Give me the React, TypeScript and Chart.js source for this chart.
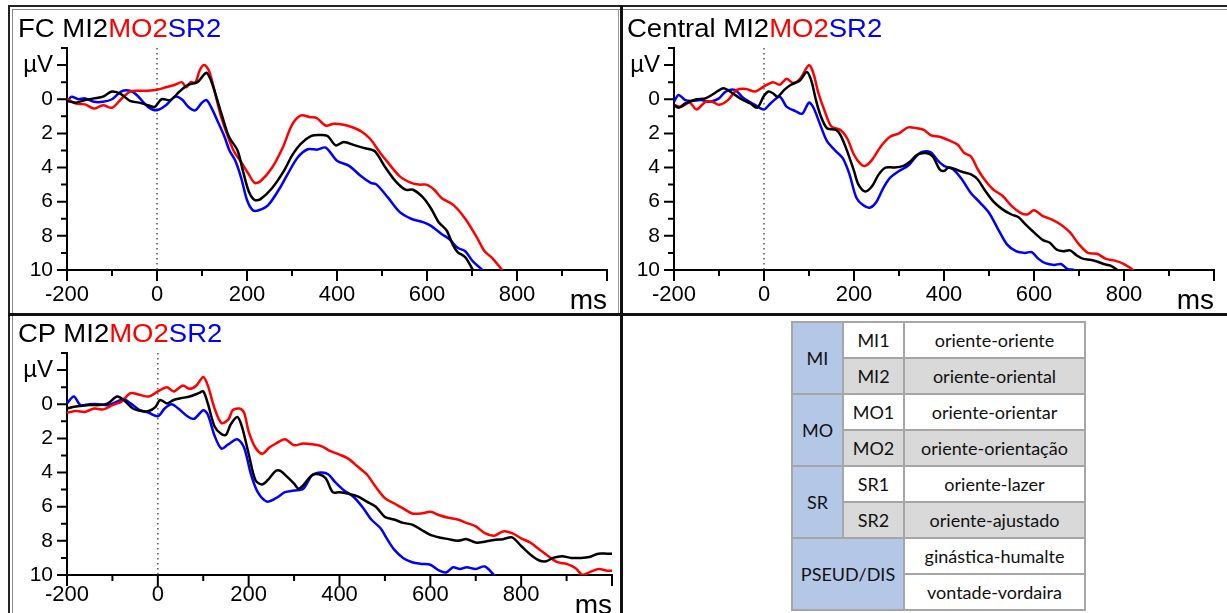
import React, { useEffect, useRef } from 'react';
import { Chart, registerables } from 'chart.js';

Chart.register(...registerables);

// ---------- data (time in ms, amplitude in µV) ----------
// FC
const fcMI2T = [-200,-180,-160,-140,-120,-100,-80,-60,-40,-20,-5,10,30,50,70,90,100,110,120,130,145,160,179,191,204,217,230,256,282,300,320,343,360,379,397,415,440,459,484,505,530,552,569,591,609,626,644,657,668,685,702,712];
const fcMI2V = [0.1,0.2,0.05,-0.05,-0.15,-0.45,-0.3,0.1,0.2,0.35,0.45,0.0,0.05,-0.45,-0.85,-1.0,-1.3,-1.55,-1.1,-0.3,1.0,2.2,3.0,4.2,5.4,5.9,5.85,5.2,4.2,3.3,2.6,2.15,2.1,2.15,2.7,2.5,2.7,2.85,3.05,3.9,4.8,5.3,5.3,5.75,6.4,7.2,7.7,8.5,8.95,9.25,10.0,10.4];
const fcMO2T = [-200,-180,-160,-140,-120,-100,-80,-60,-40,-20,0,20,40,55,65,75,85,95,105,115,125,140,155,170,190,204,217,230,256,280,300,320,340,355,375,393,415,437,455,473,495,513,539,565,582,599,616,633,659,685,711,728,745,767,777];
const fcMO2V = [0.0,0.25,0.3,0.55,0.35,0.5,0.0,-0.45,-0.5,-0.5,-0.55,-0.7,-0.85,-1.0,-0.7,-1.0,-0.95,-1.7,-2.0,-1.7,-0.8,0.8,2.0,3.0,3.8,4.4,4.9,4.8,4.0,2.8,1.5,0.95,1.05,1.1,1.55,1.43,1.5,1.67,1.9,2.3,3.1,3.7,4.5,4.9,5.0,5.0,5.3,5.8,6.2,7.0,8.1,8.9,9.3,10.0,10.4];
const fcSR2T = [-200,-190,-175,-160,-140,-120,-100,-80,-60,-45,-20,0,20,40,55,70,85,100,110,120,135,150,161,174,187,200,213,226,247,273,290,313,335,357,375,400,427,453,475,488,513,539,565,591,608,633,650,668,685,702,723,733];
const fcSR2V = [0.15,-0.15,0.0,-0.05,0.15,0.15,0.0,-0.45,-0.5,-0.25,0.45,0.65,0.35,-0.15,0.0,0.45,0.65,0.2,0.05,0.45,1.3,2.2,3.0,3.6,4.6,5.9,6.5,6.5,6.2,5.2,4.4,3.4,2.93,2.95,2.83,3.6,3.9,4.5,4.9,5.0,5.75,6.6,7.0,7.2,7.4,7.9,8.2,8.7,8.9,9.5,10.0,10.4];

// Central
const ceMI2T = [-200,-190,-175,-150,-130,-110,-90,-70,-50,-30,-15,0,10,20,30,45,60,80,95,105,115,125,140,160,170,185,200,210,225,240,255,270,290,310,325,340,360,375,390,400,410,425,440,460,475,490,510,530,550,565,580,600,620,635,650,665,680,695,710,725,740,755,770,785,795];
const ceMI2V = [0.33,0.5,0.25,0.0,-0.05,-0.35,-0.65,-0.35,0.0,0.25,0.5,-0.2,-0.45,-0.35,-0.15,-0.55,-0.85,-1.1,-1.6,-1.1,0.0,0.9,1.7,1.8,2.1,3.05,4.2,5.0,5.4,5.1,4.4,4.0,4.0,3.9,3.65,3.25,3.15,3.35,4.1,4.2,4.0,4.1,4.25,4.4,4.7,5.3,6.0,6.45,6.75,6.9,7.3,7.8,8.25,8.4,8.8,8.9,8.85,9.15,9.35,9.4,9.5,9.65,9.75,10.0,10.3];
const ceMO2T = [-200,-185,-165,-150,-130,-115,-100,-80,-60,-40,-20,0,20,35,50,65,80,100,110,120,135,150,170,185,200,215,225,240,260,280,300,320,340,355,370,390,410,430,445,460,475,490,510,530,550,570,585,600,620,640,660,680,700,720,740,760,780,800,820,830];
const ceMO2V = [0.33,0.45,0.2,0.6,0.15,0.15,0.33,0.05,-0.55,-0.6,-0.45,-0.75,-1.0,-0.85,-1.2,-0.95,-1.2,-2.0,-1.5,-0.45,0.7,1.6,1.8,2.3,3.25,3.8,3.9,3.55,2.75,2.2,2.0,1.65,1.7,1.8,2.1,2.2,2.4,2.65,3.15,3.35,4.1,4.7,5.3,5.65,6.25,6.65,6.75,6.5,6.85,7.05,7.35,7.8,8.5,9.0,9.05,9.35,9.45,9.65,10.0,10.3];
const ceSR2T = [-200,-190,-175,-160,-140,-120,-100,-85,-65,-45,-20,0,15,35,50,70,85,100,110,125,140,160,175,190,205,220,235,250,265,280,300,320,335,350,370,385,400,420,440,460,480,500,520,540,560,580,595,610,625,645,660,675,690,700];
const ceSR2V = [0.15,-0.25,0.05,0.1,0.05,0.15,-0.05,-0.45,-0.55,-0.05,0.33,0.6,0.23,-0.15,0.43,0.7,0.85,0.2,0.5,1.5,2.45,3.05,3.45,4.4,5.75,6.2,6.35,6.0,5.2,4.6,4.2,3.9,3.45,3.1,3.1,3.55,3.9,4.1,4.7,5.5,6.05,6.65,7.6,8.5,8.9,9.0,8.95,9.35,9.6,9.7,9.65,9.95,10.0,10.3];

// CP
const cpMI2T = [-200,-185,-170,-150,-130,-110,-90,-75,-55,-35,-20,-5,5,20,35,50,70,90,100,110,125,140,150,160,175,185,200,215,230,245,260,270,285,300,310,320,340,355,370,385,400,420,440,460,480,500,520,540,560,580,600,620,640,660,680,700,720,740,760,780,800,820,840,855,870,890,910,930,950,970,990,1000];
const cpMI2V = [0.25,0.15,0.1,0.05,0.05,-0.05,-0.45,-0.25,0.25,0.4,0.4,0.15,-0.25,-0.05,-0.25,-0.35,-0.45,-0.65,-0.75,-0.05,1.3,1.75,1.8,1.2,0.75,1.3,2.9,4.45,4.7,4.35,3.9,3.9,4.25,4.65,4.95,4.75,4.15,4.1,4.35,5.15,5.15,5.25,5.4,5.7,6.0,6.6,6.75,6.95,7.05,7.35,7.65,7.8,7.9,8.0,7.9,8.1,8.05,7.95,7.9,7.8,8.3,8.8,9.15,9.2,9.0,8.9,9.0,9.0,8.95,8.75,8.75,8.75];
const cpMO2T = [-200,-180,-160,-140,-120,-100,-80,-60,-40,-20,0,20,35,55,70,85,100,110,125,140,155,165,180,190,200,215,230,245,260,280,300,320,340,360,380,400,420,440,460,480,500,520,540,560,580,600,620,640,660,680,700,720,740,760,780,800,820,840,860,880,900,920,935,950,970,990,1000];
const cpMO2V = [0.5,0.4,0.45,0.25,0.3,0.05,-0.15,-0.65,-0.55,-0.45,-0.75,-1.0,-0.75,-1.1,-0.9,-1.1,-1.6,-1.1,0.25,1.1,0.9,0.35,0.25,0.5,1.6,2.55,2.9,2.55,2.3,2.05,2.4,2.3,2.35,2.45,2.75,2.95,3.2,3.65,4.1,4.85,5.5,5.8,6.1,6.4,6.4,6.3,6.5,6.65,6.75,6.95,7.15,7.55,7.7,7.45,7.55,7.85,8.1,8.5,8.9,9.25,9.35,9.6,10.0,9.85,9.65,9.75,9.75];
const cpSR2T = [-200,-185,-170,-150,-130,-110,-90,-75,-60,-40,-20,0,15,30,45,65,80,100,110,125,140,155,175,190,205,220,240,260,280,300,320,340,360,375,390,410,430,450,470,490,505,520,540,560,580,600,620,635,650,665,680,700,720,740,750];
const cpSR2V = [-0.05,-0.45,0.05,0.0,0.0,0.05,-0.15,-0.3,-0.05,0.35,0.5,0.7,0.25,0.0,0.25,0.7,0.85,0.35,0.6,1.85,2.6,2.35,2.05,2.55,4.1,5.15,5.7,5.5,5.15,5.05,4.95,4.15,4.0,4.1,4.55,5.05,5.4,6.0,6.75,7.25,7.9,8.5,9.0,9.25,9.35,9.4,9.75,9.85,9.55,9.65,9.55,9.65,9.5,10.0,10.3];

// axis ranges / ticks
const xMin = -200;
const xMax = 1000;
const yMin = -3;
const yMax = 10;
const seriesNames = ['MI2', 'MO2', 'SR2'];
const seriesColors = ['#000000', '#ff0000', '#0000ff'];

// table content
const tableGroups = ['MI', 'MO', 'SR'];
const tableCodes = [['MI1', 'MI2'], ['MO1', 'MO2'], ['SR1', 'SR2']];
const tableWords = [['oriente-oriente', 'oriente-oriental'], ['oriente-orientar', 'oriente-orientação'], ['oriente-lazer', 'oriente-ajustado']];
const pseudLabel = 'PSEUD/DIS';
const pseudWords = ['ginástica-humalte', 'vontade-vordaira'];

const FONT = '"Liberation Sans", Arial, sans-serif';

const erpAxesPlugin = {
  id: 'erpAxes',
  beforeDatasetsDraw(chart: any) {
    const { ctx, chartArea, scales } = chart;
    const px = scales.x.getPixelForValue(0);
    ctx.save();
    ctx.strokeStyle = '#555';
    ctx.lineWidth = 1.5;
    ctx.setLineDash([1.5, 3.5]);
    ctx.beginPath();
    ctx.moveTo(px, chartArea.top);
    ctx.lineTo(px, chartArea.bottom);
    ctx.stroke();
    ctx.restore();
  },
  afterDraw(chart: any) {
    const { ctx, chartArea, scales } = chart;
    ctx.save();
    ctx.strokeStyle = '#000';
    ctx.lineWidth = 2;
    ctx.beginPath();
    for (const t of scales.x.ticks) {
      const px = scales.x.getPixelForValue(t.value);
      const len = t.value % 200 === 0 ? 11 : 6;
      ctx.moveTo(px, chartArea.bottom);
      ctx.lineTo(px, chartArea.bottom + len);
    }
    for (const t of scales.y.ticks) {
      const py = scales.y.getPixelForValue(t.value);
      const len = t.value % 2 === 0 ? 10 : 6;
      ctx.moveTo(chartArea.left, py);
      ctx.lineTo(chartArea.left - len, py);
    }
    ctx.stroke();
    ctx.restore();
  },
};

type Series = { t: number[]; v: number[] };

function ErpChart(props: { series: Series[]; left: number; top: number; xPad: number }) {
  const ref = useRef<HTMLCanvasElement>(null);
  useEffect(() => {
    const chart = new Chart(ref.current as HTMLCanvasElement, {
      type: 'line',
      data: {
        datasets: props.series.map((s, i) => ({
          label: seriesNames[i],
          data: s.t.map((t, j) => ({ x: t, y: s.v[j] })),
          borderColor: seriesColors[i],
          borderWidth: 2.5,
          pointRadius: 0,
          tension: 0.3,
          fill: false,
        })),
      },
      options: {
        animation: false,
        responsive: false,
        maintainAspectRatio: false,
        events: [],
        layout: { padding: { top: 36, left: 0, right: 0, bottom: 0 } },
        plugins: { legend: { display: false }, tooltip: { enabled: false }, title: { display: false } },
        scales: {
          x: {
            type: 'linear',
            min: xMin,
            max: xMax,
            afterFit: (s: any) => { s.height = 42; },
            grid: { display: false, drawTicks: false },
            border: { display: true, color: '#000', width: 2 },
            ticks: {
              stepSize: 100,
              autoSkip: false,
              maxRotation: 0,
              padding: props.xPad,
              color: '#000',
              font: { family: FONT, size: 22 },
              callback: (v: any) => (v % 200 === 0 && v < xMax ? String(v) : ''),
            },
            title: {
              display: true,
              text: 'ms',
              align: 'end',
              color: '#000',
              padding: 0,
              font: { family: FONT, size: 28, lineHeight: 0.8 },
            },
          },
          y: {
            type: 'linear',
            min: yMin,
            max: yMax,
            reverse: true,
            afterFit: (s: any) => { s.width = 53; },
            grid: { display: false, drawTicks: false },
            border: { display: true, color: '#000', width: 2 },
            ticks: {
              stepSize: 1,
              autoSkip: false,
              padding: 14,
              color: '#000',
              font: (c: any) => ({ family: FONT, size: c.tick && c.tick.value === -2 ? 24 : 21 }),
              callback: (v: any) => (v === -2 ? 'µV' : v >= 0 && v % 2 === 0 ? String(v) : ''),
            },
          },
        },
      } as any,
      plugins: [erpAxesPlugin],
    });
    return () => chart.destroy();
  }, []);
  return (
    <canvas
      ref={ref}
      width={605}
      height={300}
      style={{ position: 'absolute', left: props.left, top: props.top, width: 605, height: 300 }}
    />
  );
}

function Title(props: { name: string; left: number; top: number }) {
  return (
    <div
      style={{
        position: 'absolute',
        left: props.left,
        top: props.top,
        fontFamily: FONT,
        fontSize: 25,
        lineHeight: '25px',
        whiteSpace: 'nowrap',
        transform: 'scaleX(1.1)',
        transformOrigin: 'left top',
      }}
    >
      <span style={{ color: seriesColors[0] }}>{props.name} {seriesNames[0]}</span>
      <span style={{ color: seriesColors[1] }}>{seriesNames[1]}</span>
      <span style={{ color: seriesColors[2] }}>{seriesNames[2]}</span>
    </div>
  );
}

const BLUE = '#b4c7e7';
const GRAY = '#d9d9d9';
const cellBorder = '2px solid #a6a6a6';

function WordTable() {
  const td = (bg: string) => ({
    background: bg,
    border: cellBorder,
    padding: 0,
    textAlign: 'center' as const,
    verticalAlign: 'middle' as const,
  });
  const rowH = { height: 36 };
  return (
    <table
      style={{
        position: 'absolute',
        left: 791,
        top: 321,
        width: 293,
        borderCollapse: 'collapse',
        fontFamily: 'Lato, "Open Sans", sans-serif',
        fontSize: 18,
        color: '#111',
        tableLayout: 'fixed',
      }}
    >
      <colgroup>
        <col style={{ width: 51 }} />
        <col style={{ width: 61 }} />
        <col style={{ width: 181 }} />
      </colgroup>
      <tbody>
        {tableGroups.map((g, gi) => (
          <React.Fragment key={g}>
            <tr style={rowH}>
              <td rowSpan={2} style={td(BLUE)}>{g}</td>
              <td style={td('#fff')}>{tableCodes[gi][0]}</td>
              <td style={td('#fff')}>{tableWords[gi][0]}</td>
            </tr>
            <tr style={rowH}>
              <td style={td(GRAY)}>{tableCodes[gi][1]}</td>
              <td style={td(GRAY)}>{tableWords[gi][1]}</td>
            </tr>
          </React.Fragment>
        ))}
        <tr style={rowH}>
          <td rowSpan={2} colSpan={2} style={td(BLUE)}>{pseudLabel}</td>
          <td style={td('#fff')}>{pseudWords[0]}</td>
        </tr>
        <tr style={rowH}>
          <td style={td('#fff')}>{pseudWords[1]}</td>
        </tr>
      </tbody>
    </table>
  );
}

const line = (left: number, top: number, width: number, height: number, color: string) => (
  <div style={{ position: 'absolute', left, top, width, height, background: color }} />
);

export default function App() {
  return (
    <div
      style={{
        position: 'absolute',
        left: 0,
        top: 0,
        width: 1227,
        height: 613,
        overflow: 'hidden',
        background: '#fff',
      }}
    >
      {/* frame lines */}
      {line(8, 5, 1219, 2, '#222')}
      {line(12, 9, 1215, 1, '#888')}
      {line(8, 5, 2, 608, '#222')}
      {line(12, 9, 1, 604, '#888')}
      {line(8, 313, 1219, 3, '#111')}
      {line(620, 5, 3, 608, '#111')}
      {line(618, 9, 1, 304, '#999')}

      <ErpChart series={[{ t: fcMI2T, v: fcMI2V }, { t: fcMO2T, v: fcMO2V }, { t: fcSR2T, v: fcSR2V }]} left={14} top={12} xPad={12} />
      <ErpChart series={[{ t: ceMI2T, v: ceMI2V }, { t: ceMO2T, v: ceMO2V }, { t: ceSR2T, v: ceSR2V }]} left={621} top={12} xPad={12} />
      <ErpChart series={[{ t: cpMI2T, v: cpMI2V }, { t: cpMO2T, v: cpMO2V }, { t: cpSR2T, v: cpSR2V }]} left={14} top={317} xPad={7} />

      <Title name="FC" left={18} top={16} />
      <Title name="Central" left={627} top={16} />
      <Title name="CP" left={18} top={321} />

      <WordTable />
    </div>
  );
}
